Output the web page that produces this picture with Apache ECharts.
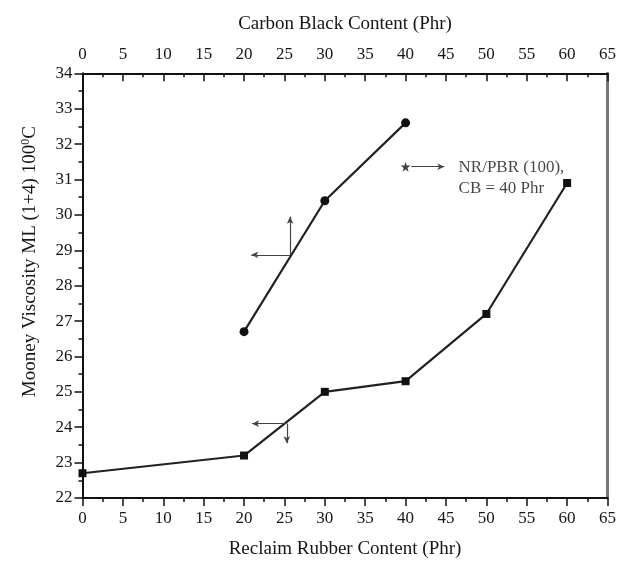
<!DOCTYPE html>
<html>
<head>
<meta charset="utf-8">
<script src="https://cdn.jsdelivr.net/npm/echarts@6/dist/echarts.min.js"></script>
<style>html,body{margin:0;padding:0;background:#fff;}#c{width:619px;height:564px;}</style>
</head>
<body>
<div id="c"></div>
<script>
// Carbon black series (top axis)
const cbContent = [20, 30, 40];
const viscCB = [26.7, 30.4, 32.6];
// Reclaim rubber series (bottom axis)
const rrContent = [0, 20, 30, 40, 50, 60];
const viscRR = [22.7, 23.2, 25.0, 25.3, 27.2, 30.9];
// axis ranges
const xRange = [0, 65, 5];
const yRange = [22, 34, 1];
// axis-indicator arrows: [fromX, fromY, toX, toY]
const cbArrows = [[25.7, 28.87, 20.9, 28.87], [25.7, 28.87, 25.7, 29.95]];
const rrArrows = [[25.3, 24.1, 21.0, 24.1], [25.3, 24.1, 25.3, 23.55]];
// reference point annotation
const refPoint = [40, 31.36];
const refArrow = [40.7, 31.36, 44.8, 31.36];
const refText = ['NR/PBR (100),', 'CB = 40 Phr'];

const FONT = '"Liberation Serif", "Times New Roman", serif';
const TXT = '#161616';
const STAR = 'path://M50,0 L61,35 L98,35 L68,57 L79,91 L50,70 L21,91 L32,57 L2,35 L39,35 Z';

function arrowLines(arr) {
  return arr.map(a => [{coord: [a[0], a[1]]}, {coord: [a[2], a[3]]}]);
}
const arrowMark = (arr) => ({
  silent: true, animation: false,
  symbol: ['none', 'arrow'], symbolSize: [5, 7],
  lineStyle: {color: '#444', width: 1.2, type: 'solid'},
  label: {show: false}, emphasis: {disabled: true},
  data: arrowLines(arr)
});

const xBase = {
  type: 'value', min: xRange[0], max: xRange[1], interval: xRange[2],
  nameLocation: 'middle',
  nameTextStyle: {fontFamily: FONT, fontSize: 19, color: TXT},
  axisLine: {show: true, onZero: false, lineStyle: {color: '#111', width: 2}},
  axisLabel: {fontFamily: FONT, fontSize: 17, color: TXT},
  minorTick: {show: true, splitNumber: 2, length: 4, lineStyle: {color: '#111', width: 1.5}},
  splitLine: {show: false}
};

const chart = echarts.init(document.getElementById('c'), null, {renderer: 'canvas'});
chart.setOption({
  animation: false,
  backgroundColor: '#fff',
  grid: {left: 82.5, right: 11, top: 73.3, bottom: 62},
  xAxis: [
    Object.assign({}, xBase, {
      position: 'bottom', name: 'Reclaim Rubber Content (Phr)', nameGap: 42,
      axisTick: {show: true, inside: false, length: 8, lineStyle: {color: '#111', width: 1.5}},
      axisLabel: Object.assign({}, xBase.axisLabel, {margin: 12})
    }),
    Object.assign({}, xBase, {
      position: 'top', name: 'Carbon Black Content (Phr)', nameGap: 40,
      axisTick: {show: true, inside: true, length: 8, lineStyle: {color: '#111', width: 1.5}},
      minorTick: Object.assign({}, xBase.minorTick),
      axisLabel: Object.assign({}, xBase.axisLabel, {margin: 10})
    })
  ],
  yAxis: [
    {
      type: 'value', position: 'left', min: yRange[0], max: yRange[1], interval: yRange[2],
      name: '{a|Mooney Viscosity ML (1+4) 100}{s|0}{a|C}',
      nameLocation: 'middle', nameGap: 41,
      nameTextStyle: {
        fontFamily: FONT, fontSize: 19, color: TXT, padding: [0, 0, 0, 48],
        rich: {
          a: {fontFamily: FONT, fontSize: 19, color: TXT, lineHeight: 22},
          s: {fontFamily: FONT, fontSize: 12, color: TXT, verticalAlign: 'top', lineHeight: 22}
        }
      },
      axisLine: {show: true, onZero: false, lineStyle: {color: '#111', width: 2}},
      axisTick: {show: true, inside: false, length: 8, lineStyle: {color: '#111', width: 1.5}},
      minorTick: {show: true, splitNumber: 2, length: 4, lineStyle: {color: '#111', width: 1.5}},
      axisLabel: {fontFamily: FONT, fontSize: 17, color: TXT, margin: 10},
      splitLine: {show: false}
    },
    {
      type: 'value', position: 'right', min: yRange[0], max: yRange[1], interval: yRange[2],
      axisLine: {show: true, onZero: false, lineStyle: {color: '#777', width: 3}},
      axisTick: {show: false}, axisLabel: {show: false}, splitLine: {show: false}
    }
  ],
  series: [
    {
      type: 'line', xAxisIndex: 1, yAxisIndex: 0,
      data: cbContent.map((x, i) => [x, viscCB[i]]),
      symbol: 'circle', symbolSize: 9,
      itemStyle: {color: '#111'},
      lineStyle: {color: '#222', width: 2.2},
      markLine: arrowMark(cbArrows)
    },
    {
      type: 'line', xAxisIndex: 0, yAxisIndex: 0,
      data: rrContent.map((x, i) => [x, viscRR[i]]),
      symbol: 'rect', symbolSize: 8,
      itemStyle: {color: '#111'},
      lineStyle: {color: '#222', width: 2.2},
      markLine: arrowMark(rrArrows.concat([refArrow]))
    },
    {
      type: 'scatter', xAxisIndex: 0, yAxisIndex: 0,
      data: [refPoint],
      symbol: STAR, symbolSize: 10,
      itemStyle: {color: '#111'},
      label: {
        show: true, position: 'right', distance: 48,
        formatter: refText.join('\n'),
        fontFamily: FONT, fontSize: 17, color: TXT, lineHeight: 21,
        align: 'left', verticalAlign: 'top', offset: [0, -10]
      }
    }
  ]
});
</script>
</body>
</html>
